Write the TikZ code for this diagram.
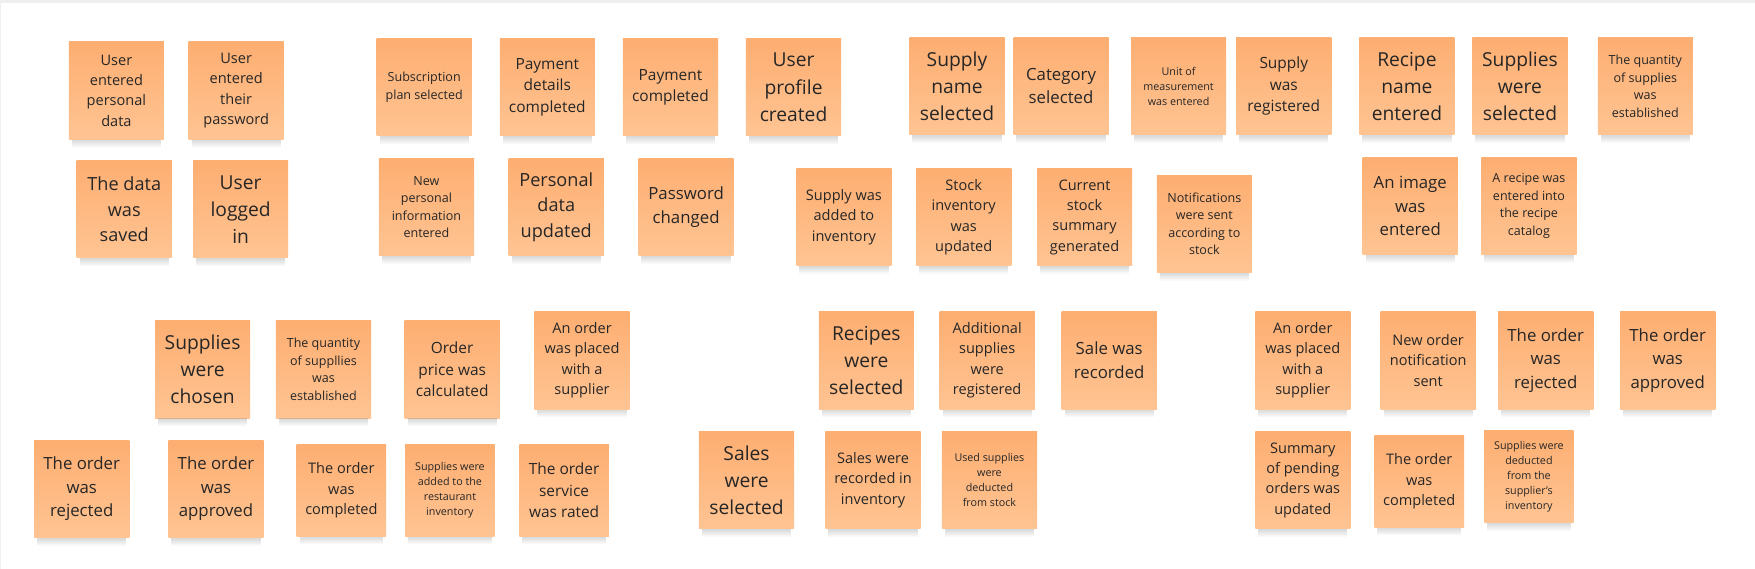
\documentclass[tikz,border=0pt]{standalone}
\usepackage{fontspec}
\setmainfont{Open Sans}
\usepackage{tikz}
\usetikzlibrary{fadings}
\definecolor{StickyTop}{HTML}{FDAE71}
\definecolor{StickyBottom}{HTML}{FFC493}
\definecolor{StickyInk}{HTML}{262626}
\definecolor{StickyShade}{HTML}{7A7A7A}
\definecolor{BoardEdge}{HTML}{EFEFEF}
\tikzset{
  note/.style={top color=StickyTop,bottom color=StickyBottom,
    minimum width=42.5pt,minimum height=43.5pt,inner sep=1pt,
    align=center,text=StickyInk},
  smallnote/.style={note,minimum width=40pt,minimum height=41pt},
  noteshadow/.style={fill=StickyShade,fill opacity=0.28,path fading=south},
  fsxl/.style={font=\fontsize{8.6}{12.1}\selectfont},
  fsl/.style={font=\fontsize{8.1}{11.4}\selectfont},
  fsb/.style={font=\fontsize{7.5}{10.5}\selectfont},
  fsmb/.style={font=\fontsize{6.9}{9.6}\selectfont},
  fsm/.style={font=\fontsize{6.5}{9.1}\selectfont},
  fss/.style={font=\fontsize{5.6}{7.8}\selectfont},
  fsxs/.style={font=\fontsize{4.8}{6.7}\selectfont}
}

\begin{document}
\begin{tikzpicture}[x=0.5pt,y=-0.5pt]
  \useasboundingbox (0,0) rectangle (1568,508);
  \fill[white] (0,0) rectangle (1568,508);
  \fill[BoardEdge] (0,0) rectangle (1568,2.7);
  \draw[BoardEdge] (0.5,0) -- (0.5,508);

  % registration and profile
  \node[note,fsm] (personal) at (104,81) {User\\entered\\personal\\data};
  \node[note,fsm] (password) at (211,81) {User\\entered\\their\\password};
  \node[note,fsl] (saved) at (111,187) {The data\\was\\saved};
  \node[note,fsxl] (logged) at (215,187) {User\\logged\\in};
  \node[note,fss] (plan) at (379,78) {Subscription\\plan selected};
  \node[note,fsmb] (details) at (489,78) {Payment\\details\\completed};
  \node[note,fsmb] (paid) at (599,78) {Payment\\completed};
  \node[note,fsxl] (profile) at (709,78) {User\\profile\\created};
  \node[note,fss] (newinfo) at (381,185) {New\\personal\\information\\entered};
  \node[note,fsl] (updated) at (497,185) {Personal\\data\\updated};
  \node[note,fsb] (pwchanged) at (613,185) {Password\\changed};

  % supplies
  \node[note,fsxl] (supplyname) at (855,77) {Supply\\name\\selected};
  \node[note,fsb] (category) at (948,77) {Category\\selected};
  \node[note,fsxs] (unit) at (1053,77) {Unit of\\measurement\\was entered};
  \node[note,fsmb] (registered) at (1147,77) {Supply\\was\\registered};
  \node[note,fsm] (added) at (754,194) {Supply was\\added to\\inventory};
  \node[note,fsm] (stock) at (861,194) {Stock\\inventory\\was\\updated};
  \node[note,fsm] (summary) at (969,194) {Current\\stock\\summary\\generated};
  \node[note,fss] (notified) at (1076,200) {Notifications\\were sent\\according to\\stock};

  % recipes
  \node[note,fsxl] (recipename) at (1257,77) {Recipe\\name\\entered};
  \node[note,fsxl] (suppliessel) at (1358,77) {Supplies\\were\\selected};
  \node[note,fss] (quantity) at (1470,77) {The quantity\\of supplies\\was\\established};
  \node[note,fsb] (image) at (1260,184) {An image\\was\\entered};
  \node[note,fss] (catalog) at (1366,184) {A recipe was\\entered into\\the recipe\\catalog};

  % ordering from suppliers
  \node[note,fsxl] (chosen) at (181,330) {Supplies\\were\\chosen};
  \node[note,fss] (qtyorder) at (289,330) {The quantity\\of suppllies\\was\\established};
  \node[note,fsmb] (price) at (404,330) {Order\\price was\\calculated};
  \node[note,fsm] (placed) at (520,322) {An order\\was placed\\with a\\supplier};
  \node[note,fsb] (rejected) at (73,437) {The order\\was\\rejected};
  \node[note,fsb] (approved) at (193,437) {The order\\was\\approved};
  \node[smallnote,fsm] (completed) at (305,438) {The order\\was\\completed};
  \node[smallnote,fsxs] (restocked) at (402,438) {Supplies were\\added to the\\restaurant\\inventory};
  \node[smallnote,fsmb] (rated) at (504,438) {The order\\service\\was rated};

  % sales
  \node[note,fsxl] (recipessel) at (774,322) {Recipes\\were\\selected};
  \node[note,fsm] (additional) at (882,322) {Additional\\supplies\\were\\registered};
  \node[note,fsb] (sale) at (991,322) {Sale was\\recorded};
  \node[note,fsxl] (salessel) at (667,429) {Sales\\were\\selected};
  \node[note,fsm] (salesinv) at (780,429) {Sales were\\recorded in\\inventory};
  \node[note,fsxs] (deducted) at (884,429) {Used supplies\\were\\deducted\\from stock};

  % supplier side
  \node[note,fsm] (supplierorder) at (1164,322) {An order\\was placed\\with a\\supplier};
  \node[note,fsm] (notification) at (1276,322) {New order\\notification\\sent};
  \node[note,fsb] (suprejected) at (1381,322) {The order\\was\\rejected};
  \node[note,fsb] (supapproved) at (1490,322) {The order\\was\\approved};
  \node[note,fsm] (pending) at (1164,429) {Summary\\of pending\\orders was\\updated};
  \node[smallnote,fsm] (supcompleted) at (1268,430) {The order\\was\\completed};
  \node[smallnote,fsxs] (supdeducted) at (1366,426) {Supplies were\\deducted\\from the\\supplier's\\inventory};

  % soft shadow under every note
  \foreach \n in {personal,password,saved,logged,plan,details,paid,profile,
      newinfo,updated,pwchanged,supplyname,category,unit,registered,added,
      stock,summary,notified,recipename,suppliessel,quantity,image,catalog,
      chosen,qtyorder,price,placed,rejected,approved,completed,restocked,
      rated,recipessel,additional,sale,salessel,salesinv,deducted,
      supplierorder,notification,suprejected,supapproved,pending,
      supcompleted,supdeducted}
    \fill[noteshadow] ([xshift=1.5pt]\n.south west) rectangle ([xshift=-1.5pt,yshift=-3.5pt]\n.south east);
\end{tikzpicture}
\end{document}
